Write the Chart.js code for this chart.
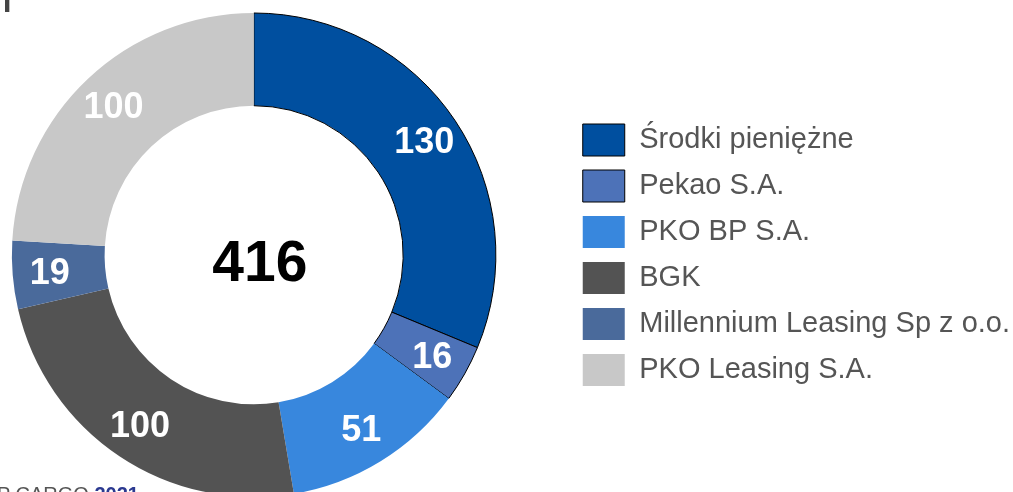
<!DOCTYPE html>
<html>
<head>
<meta charset="utf-8">
<script src="https://cdn.jsdelivr.net/npm/chart.js@4.4.1/dist/chart.umd.min.js"></script>
<style>
    body { margin: 0; overflow: hidden; background: #fff; width: 1013px; height: 492px; position: relative; }
    #wrap { position: absolute; left: -61px; top: 0; width: 1081px; height: 510px; }
    .cut { position: absolute; white-space: nowrap; font-family: Arial, "Liberation Sans", sans-serif; }
    #topMark { left: 3px; top: -13px; font-size: 30px; line-height: 30px; font-weight: bold; color: #444; }
    #source { right: 874px; top: 484px; font-size: 20px; line-height: 20px; color: #555; }
    #source b { color: #2b3990; }
</style>
</head>
<body>
<div id="wrap"><canvas id="donut" width="1081" height="510"></canvas></div>
<div class="cut" id="topMark">I</div>
<div class="cut" id="source">PKP CARGO <b>2021</b></div>
<script>
// dane z wykresu (mln zł)
const labels = ['Środki pieniężne', 'Pekao S.A.', 'PKO BP S.A.', 'BGK', 'Millennium Leasing Sp z o.o.', 'PKO Leasing S.A.'];
const values = [130, 16, 51, 100, 19, 100];
const colors = ['#004f9f', '#4d72b8', '#3887dd', '#535353', '#4a6a9b', '#c8c8c8'];
const borders = [1, 1, 0, 0, 0, 0];

// etykiety wartości na wycinkach
const sliceLabels = {
    id: 'sliceLabels',
    afterDatasetsDraw(chart) {
        const ctx = chart.ctx;
        const meta = chart.getDatasetMeta(0);
        ctx.save();
        ctx.fillStyle = '#fff';
        ctx.font = 'bold 36px Arial, "Liberation Sans", sans-serif';
        ctx.textAlign = 'center';
        ctx.textBaseline = 'middle';
        meta.data.forEach((arc, i) => {
            const p = arc.getProps(['x', 'y', 'startAngle', 'endAngle', 'innerRadius', 'outerRadius'], true);
            const mid = (p.startAngle + p.endAngle) / 2;
            const r = p.innerRadius + (p.outerRadius - p.innerRadius) * 0.6;
            ctx.fillText(String(values[i]), p.x + Math.cos(mid) * r, p.y + Math.sin(mid) * r + 2);
        });
        ctx.restore();
    }
};

// suma w środku
const centerTotal = {
    id: 'centerTotal',
    afterDraw(chart) {
        const ctx = chart.ctx;
        const arc = chart.getDatasetMeta(0).data[0];
        const total = values.reduce((a, b) => a + b, 0);
        ctx.save();
        ctx.fillStyle = '#000';
        ctx.font = 'bold 57px Arial, "Liberation Sans", sans-serif';
        ctx.textAlign = 'center';
        ctx.textBaseline = 'alphabetic';
        ctx.fillText(String(total), arc.x + 6, arc.y + 26);
        ctx.restore();
    }
};

new Chart(document.getElementById('donut'), {
    type: 'doughnut',
    data: {
        labels: labels,
        datasets: [{
            data: values,
            backgroundColor: colors,
            borderColor: '#000',
            borderWidth: borders,
            radius: 242,
            cutout: 157
        }]
    },
    options: {
        responsive: false,
        animation: false,
        devicePixelRatio: 1,
        plugins: {
            tooltip: { enabled: false },
            legend: {
                position: 'right',
                labels: {
                    boxWidth: 42,
                    boxHeight: 32,
                    padding: 14,
                    color: '#555',
                    font: { family: 'Arial, "Liberation Sans", sans-serif', size: 29 }
                }
            }
        }
    },
    plugins: [sliceLabels, centerTotal]
});
</script>
</body>
</html>
